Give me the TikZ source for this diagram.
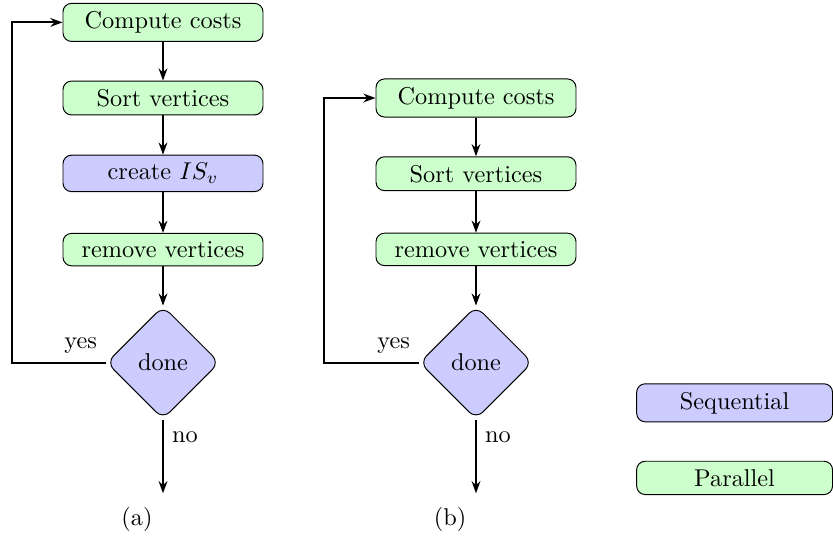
\documentclass[tikz,border=0pt]{standalone}
\usetikzlibrary{shapes.geometric,arrows.meta}
\begin{document}
\begin{tikzpicture}[x=0.41152pt,y=-0.41152pt,
  box/.style={rectangle, rounded corners=3.5pt, draw, line width=0.4pt, minimum width=82.3pt},
  parbox/.style={box, fill=green!20},
  seqbox/.style={box, fill=blue!20},
  decbox/.style={diamond, draw, line width=0.4pt, fill=blue!20, aspect=1, minimum width=46.5pt, minimum height=46.5pt, inner sep=0pt, rounded corners=4pt},
  conn/.style={draw, line width=0.8pt, -{Stealth[length=5pt,width=3.6pt]}}]
\useasboundingbox (0,0) rectangle (833,538);
% column (a)
\node[parbox] (c1) at (163,22.4) {Compute costs};
\node[parbox] (s1) at (163,98) {Sort vertices};
\node[seqbox] (i1) at (163,173.4) {create $IS_v$};
\node[parbox] (r1) at (163,249.6) {remove vertices};
\node[decbox] (d1) at (163,362.6) {done};
\coordinate (yl) at (12,0);
\coordinate (e1) at (163,493.3);
\draw[conn] (c1) -- (s1);
\draw[conn] (s1) -- (i1);
\draw[conn] (i1) -- (r1);
\draw[conn] (r1) -- (d1);
\draw[conn] (d1.west) node[above left] {yes} -- (d1.west -| yl) |- (c1.west);
\draw[conn] (d1.south) -- node[right,pos=0.24] {no} (e1);
\node (ca) at (137,519) {(a)};
% column (b)
\node[parbox] (c2) at (476,98) {Compute costs};
\node[parbox] (s2) at (476,173.7) {Sort vertices};
\node[parbox] (r2) at (476,249.4) {remove vertices};
\node[decbox] (d2) at (476,362.6) {done};
\coordinate (yr) at (324,0);
\coordinate (e2) at (476,493.3);
\draw[conn] (c2) -- (s2);
\draw[conn] (s2) -- (r2);
\draw[conn] (r2) -- (d2);
\draw[conn] (d2.west) node[above left] {yes} -- (d2.west -| yr) |- (c2.west);
\draw[conn] (d2.south) -- node[right,pos=0.24] {no} (e2);
\node (cb) at (450,519) {(b)};
% legend
\node[seqbox, minimum width=80.6pt] (ls) at (734.6,402.8) {Sequential};
\node[parbox, minimum width=80.6pt] (lp) at (734.6,477.9) {Parallel};
\end{tikzpicture}
\end{document}
